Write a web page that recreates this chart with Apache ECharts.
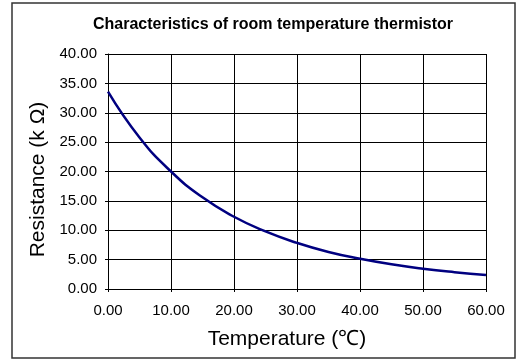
<!DOCTYPE html>
<html><head><meta charset="utf-8">
<script src="https://cdn.jsdelivr.net/npm/echarts@6/dist/echarts.min.js"></script>
<style>html,body{margin:0;padding:0;background:#fff}#c{width:524px;height:360px}</style>
</head><body><div id="c"></div>
<script>
const temperatures = [0, 5, 10, 15, 20, 25, 30, 35, 40, 45, 50, 55, 60];
const resistance = [33.6, 25.8, 20.0, 15.6, 12.3, 9.8, 7.85, 6.3, 5.15, 4.2, 3.45, 2.86, 2.38];
const title = 'Characteristics of room temperature thermistor';
const xName = 'Temperature (℃)';
const yName = 'Resistance (k Ω)';

const chart = echarts.init(document.getElementById('c'), null, {renderer: 'canvas'});
const font = 'Liberation Sans, Arial, sans-serif';
chart.setOption({
  animation: false,
  backgroundColor: '#fff',
  graphic: [{
    type: 'rect', shape: {x: 12, y: 3, width: 503, height: 355},
    style: {fill: 'none', stroke: '#333', lineWidth: 1.5}, silent: true, z: -1
  }],
  title: {
    text: title, left: 268, top: 12, textAlign: 'center',
    textStyle: {fontFamily: font, fontSize: 16, fontWeight: 'bold', color: '#000'}
  },
  grid: {left: 108, top: 54, width: 378, height: 235, containLabel: false},
  xAxis: {
    type: 'value', min: 0, max: 60, interval: 10,
    name: xName, nameLocation: 'middle', nameGap: 40,
    nameTextStyle: {fontFamily: font, fontSize: 21, color: '#000', padding: [0, 20, 0, 0]},
    axisLine: {show: true, lineStyle: {color: '#000', width: 1}},
    axisTick: {show: true, length: 3, lineStyle: {color: '#000'}},
    axisLabel: {fontFamily: font, fontSize: 15, color: '#000', margin: 14, formatter: v => v.toFixed(2)},
    splitLine: {show: true, lineStyle: {color: '#000', width: 1}}
  },
  yAxis: {
    type: 'value', min: 0, max: 40, interval: 5,
    name: yName, nameLocation: 'middle', nameGap: 49, nameRotate: 90,
    nameTextStyle: {fontFamily: font, fontSize: 21, color: '#000', padding: [0, 16, 0, 0]},
    axisLine: {show: true, lineStyle: {color: '#000', width: 1}},
    axisTick: {show: true, length: 3, lineStyle: {color: '#000'}},
    axisLabel: {fontFamily: font, fontSize: 15, color: '#000', margin: 11, formatter: v => v.toFixed(2)},
    splitLine: {show: true, lineStyle: {color: '#000', width: 1}}
  },
  series: [{
    type: 'line', smooth: true, symbol: 'none',
    data: temperatures.map((t, i) => [t, resistance[i]]),
    lineStyle: {color: '#000080', width: 2.5}
  }]
});
</script></body></html>
